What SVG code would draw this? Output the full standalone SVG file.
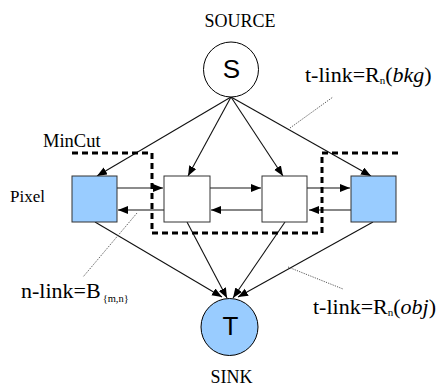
<svg xmlns="http://www.w3.org/2000/svg" width="439" height="386" viewBox="0 0 439 386">
<defs>
<marker id="ah" markerUnits="userSpaceOnUse" markerWidth="11" markerHeight="9" refX="10" refY="4" orient="auto">
<path d="M0,0 L10,4 L0,8 z" fill="#000"/>
</marker>
<style>
.edge{stroke:#111;stroke-width:1.1;fill:none;marker-end:url(#ah)}
.edge.gray{stroke:#666;stroke-width:1.5}
.pix{stroke:#333;stroke-width:1}
.blue{fill:#99ccff}
.white{fill:#fff}
.lead{stroke:#444;stroke-width:0.9;stroke-dasharray:1.2,1.2;fill:none}
.cut{stroke:#000;stroke-width:3;stroke-dasharray:6,4;fill:none}
</style>
</defs>
<rect width="439" height="386" fill="#fff"/>

<g id="connectors">
<line class="edge" x1="231" y1="97" x2="97" y2="176"/>
<line class="edge" x1="231" y1="97" x2="188" y2="176"/>
<line class="edge" x1="231" y1="97" x2="283" y2="176"/>
<line class="edge" x1="231" y1="97" x2="371" y2="176"/>
<line class="edge" x1="95" y1="222" x2="222" y2="297"/>
<line class="edge" x1="187" y1="222" x2="227" y2="298"/>
<line class="edge" x1="285" y1="222" x2="233" y2="298"/>
<line class="edge" x1="373" y1="222" x2="238" y2="297"/>
<line class="edge gray" x1="117" y1="188" x2="163" y2="188"/>
<line class="edge" x1="164" y1="210" x2="118" y2="210"/>
<line class="edge gray" x1="210" y1="188" x2="261" y2="188"/>
<line class="edge" x1="262" y1="210" x2="211" y2="210"/>
<line class="edge" x1="307" y1="188" x2="350" y2="188"/>
<line class="edge" x1="351" y1="210" x2="309" y2="210"/>
</g>

<g id="leaders">
<line class="lead" x1="290" y1="128" x2="333" y2="97"/>
<line class="lead" x1="137" y1="213" x2="83" y2="277"/>
<line class="lead" x1="288" y1="267" x2="343" y2="289"/>
</g>

<g id="mincut">
<path class="cut" d="M72,153 H152 V233 H322 V153 H398"/>
<text font-family="'Liberation Serif', 'DejaVu Serif', serif" x="43" y="147" font-size="18.5">MinCut</text>
</g>

<g id="source">
<circle cx="231" cy="69.5" r="27.5" fill="#fff" stroke="#000" stroke-width="1"/>
<text font-family="'Liberation Sans', Arial, sans-serif" x="231.5" y="77.5" font-size="26" text-anchor="middle">S</text>
<text font-family="'Liberation Serif', 'DejaVu Serif', serif" x="240" y="27" font-size="18" text-anchor="middle">SOURCE</text>
</g>

<g id="sink">
<circle cx="229.5" cy="327" r="28.5" class="blue" stroke="#000" stroke-width="1"/>
<text font-family="'Liberation Sans', Arial, sans-serif" x="230.5" y="334.5" font-size="26" text-anchor="middle">T</text>
<text font-family="'Liberation Serif', 'DejaVu Serif', serif" x="231.5" y="383" font-size="18" text-anchor="middle">SINK</text>
</g>

<g id="pixel1">
<rect class="pix blue" x="72" y="176" width="45" height="46"/>
</g>
<g id="pixel2">
<rect class="pix white" x="164" y="176" width="46" height="46"/>
</g>
<g id="pixel3">
<rect class="pix white" x="262" y="176" width="45" height="46"/>
</g>
<g id="pixel4">
<rect class="pix blue" x="351" y="176" width="45" height="46"/>
</g>

<g id="labels" font-family="'Liberation Serif', 'DejaVu Serif', serif">
<text x="10" y="202" font-size="17">Pixel</text>
<text x="305" y="82" font-size="22">t-link=R<tspan font-size="11" dy="2">n</tspan><tspan dy="-2">(</tspan><tspan font-style="italic">bkg</tspan>)</text>
<text x="313" y="314" font-size="22">t-link=R<tspan font-size="11" dy="2">n</tspan><tspan dy="-2">(</tspan><tspan font-style="italic">obj</tspan>)</text>
<text x="21" y="298" font-size="22">n-link=B<tspan font-size="10.5" dx="2" dy="4">{m,n}</tspan></text>
</g>
</svg>
